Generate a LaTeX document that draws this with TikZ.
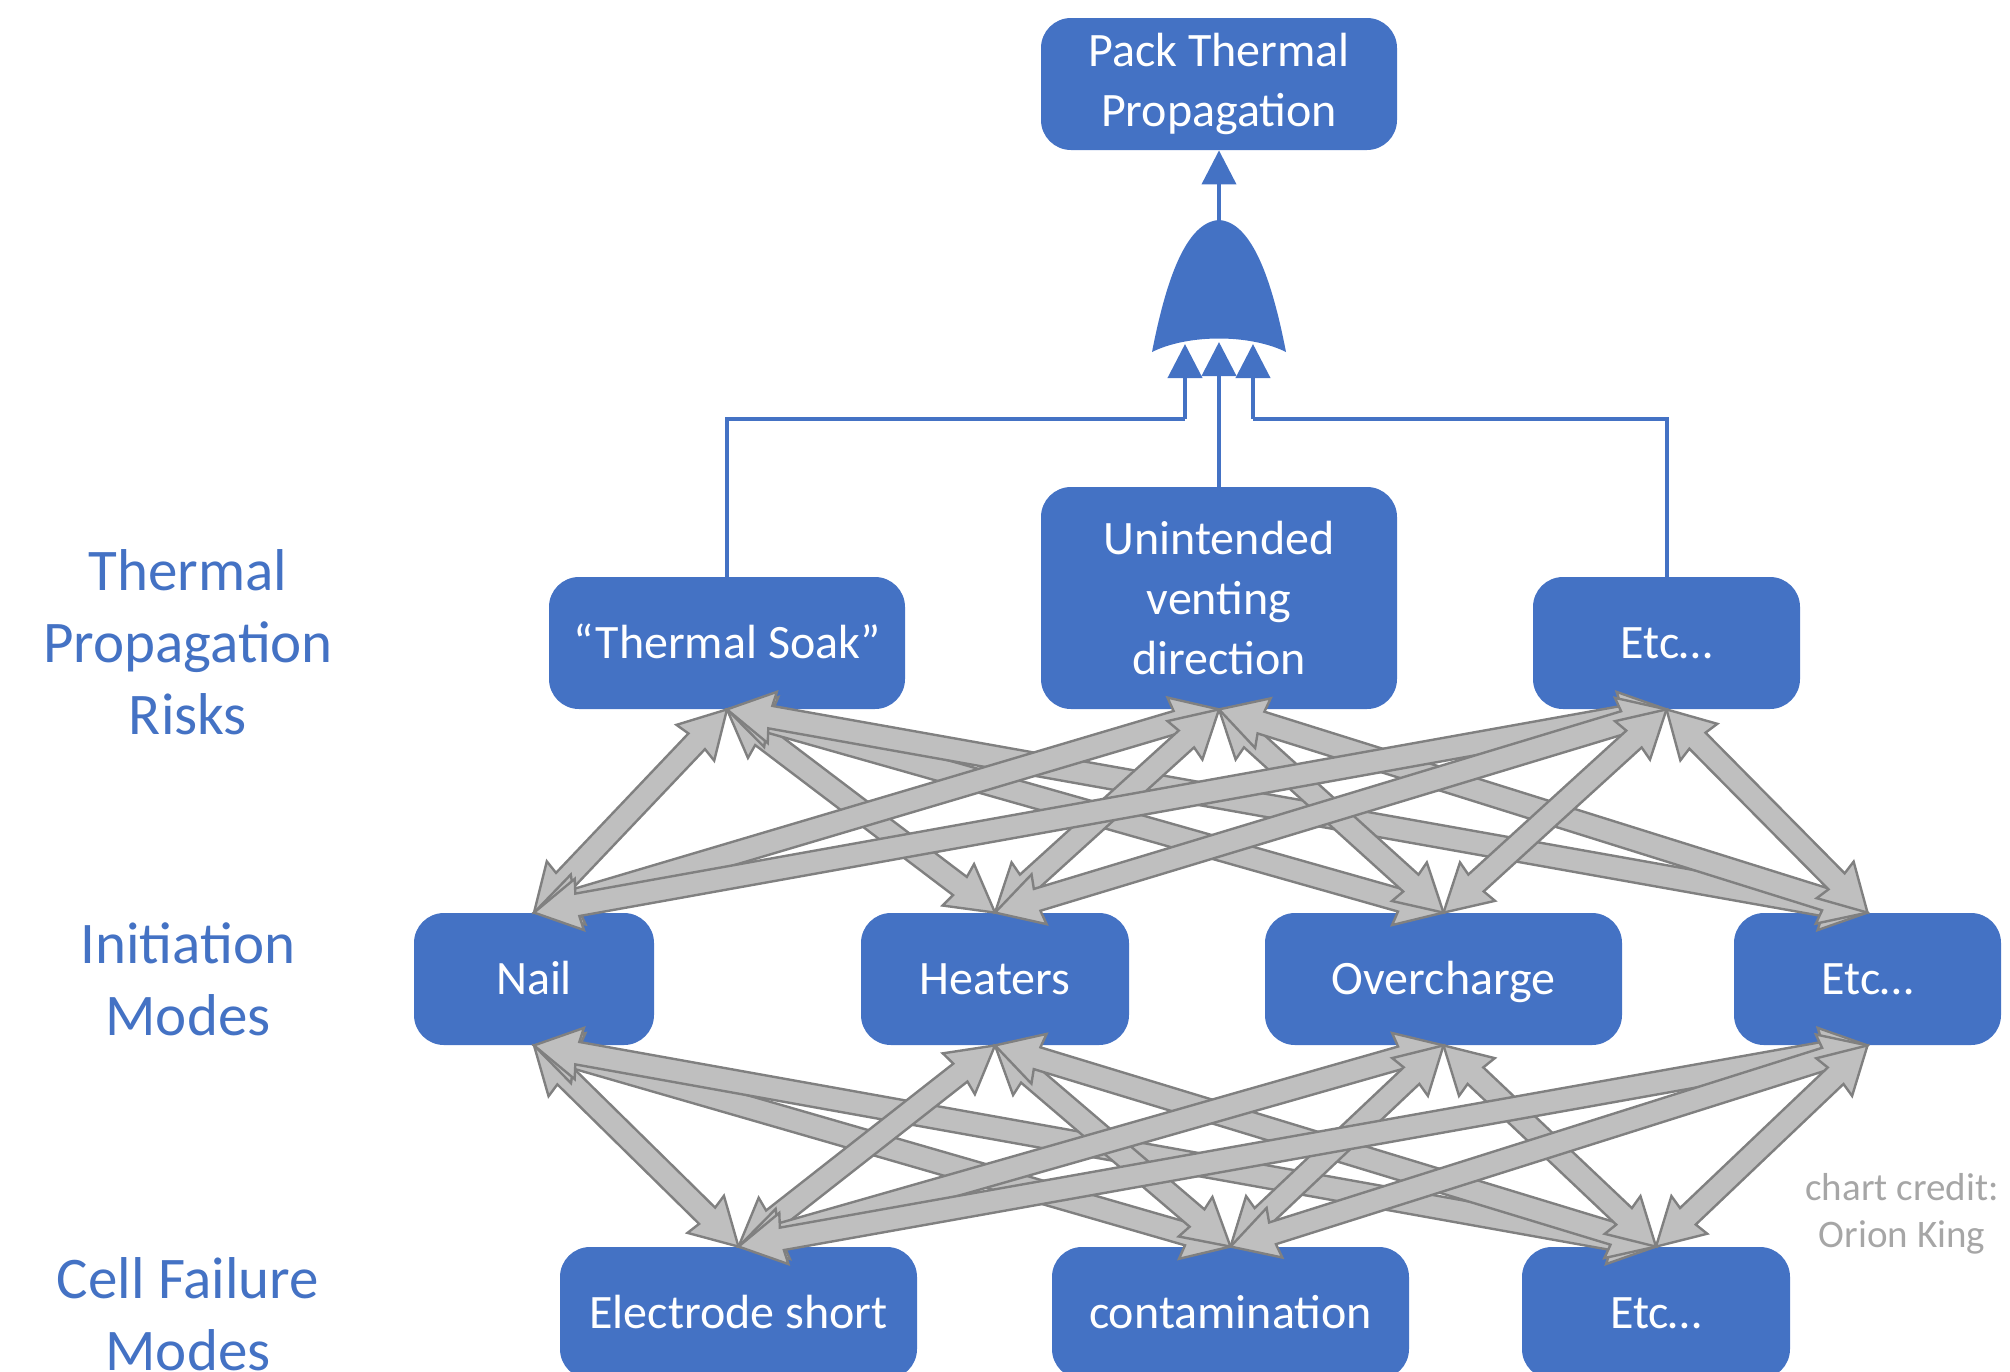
\documentclass[tikz,border=0pt]{standalone}
\usepackage{fontspec}
\setmainfont{Carlito}
\usetikzlibrary{arrows.meta,calc}
\definecolor{boxblue}{HTML}{4472C4}
\definecolor{agray}{HTML}{BFBFBF}
\definecolor{aedge}{HTML}{808080}
\definecolor{credit}{HTML}{A6A6A6}
\newcommand\garrow[2]{%
  \path (#1) coordinate (gaA) (#2) coordinate (gaB);
  \pgfpointdiff{\pgfpointanchor{gaA}{center}}{\pgfpointanchor{gaB}{center}}%
  \pgfgetlastxy{\gadx}{\gady}%
  \pgfmathsetmacro\gaang{atan2(\gady,\gadx)}%
  \pgfmathsetmacro\galen{veclen(\gadx,\gady)}%
  \pgfmathsetmacro\gaL{\galen-23}%
  \pgfmathsetmacro\gaLi{\galen-22}%
  \draw[garr, shift={(gaA)}, rotate=\gaang]
    (0pt,0pt) -- (23pt,13pt) -- (22pt,5.7pt) -- (\gaLi pt,5.7pt) -- (\gaL pt,13pt) -- (\galen pt,0pt)
    -- (\gaL pt,-13pt) -- (\gaLi pt,-5.7pt) -- (22pt,-5.7pt) -- (23pt,-13pt) -- cycle;
}
\begin{document}
\begin{tikzpicture}[x=0.5pt,y=-0.5pt,
  box/.style={fill=boxblue, rounded corners=15pt, text=white, align=center,
    font=\fontsize{24}{30}\selectfont, inner sep=0pt, minimum height=66pt},
  one/.style={text height=19.5pt, text depth=4pt},
  side/.style={text=boxblue, align=center, font=\fontsize{29.5}{36}\selectfont},
  garr/.style={draw=aedge, fill=agray, line width=1.2pt},
  bline/.style={draw=boxblue, line width=2pt},
  barr/.style={bline, -{Triangle[length=17pt,width=17pt]}}]
\useasboundingbox (0,0) rectangle (2010,1372);
\clip (0,0) rectangle (2010,1372);

% boxes
\node[box, minimum width=178pt] (pack) at (1219,84) {Pack Thermal\\Propagation};
\node[box, one, minimum width=178pt] (ts) at (727,643) {“Thermal Soak”};
\node[box, minimum width=178pt, minimum height=111pt] (uv) at (1219,598) {Unintended\\venting\\direction};
\node[box, one, minimum width=133.5pt] (etc1) at (1666.5,643) {Etc…};
\node[box, one, minimum width=120pt] (nail) at (534,979) {Nail};
\node[box, one, minimum width=134pt] (heat) at (995,979) {Heaters};
\node[box, one, minimum width=178.5pt] (over) at (1443.5,979) {Overcharge};
\node[box, one, minimum width=133.5pt] (etc2) at (1867.5,979) {Etc…};
\node[box, one, minimum width=178.5pt] (elec) at (738.5,1313) {Electrode short};
\node[box, one, minimum width=178.5pt] (cont) at (1230.5,1313) {contamination};
\node[box, one, minimum width=134pt] (etc3) at (1656,1313) {Etc…};

% side labels
\node[side] (l1) at (188,642) {Thermal\\Propagation\\Risks};
\node[side] (l2) at (188,979) {Initiation\\Modes};
\node[side] (l3) at (188,1314) {Cell Failure\\Modes};
\node[text=credit, align=center, font=\fontsize{19.5}{23.5}\selectfont] (cr) at (1902,1214) {chart credit:\\Orion King};

% OR gate
\fill[boxblue] (1152,352) .. controls (1166,280) and (1186,222) .. (1219,220)
  .. controls (1252,222) and (1272,280) .. (1286,352)
  .. controls (1250,334) and (1188,334) .. cycle;
\coordinate (gtop) at (1219,222);
\coordinate (gin1) at (1185,344);
\coordinate (gin2) at (1219,342);
\coordinate (gin3) at (1253,344);
\coordinate (j1) at (1185,419);
\coordinate (j3) at (1253,419);
\draw[barr] (gtop) -- (pack.south);
\draw[bline] (ts.north) |- (j1);
\draw[barr] (j1) -- (gin1);
\draw[barr] (uv.north) -- (gin2);
\draw[bline] (etc1.north) |- (j3);
\draw[barr] (j3) -- (gin3);

% gray double arrows, upper layer
\foreach \t in {ts,uv,etc1}{
  \foreach \b in {nail,heat,over,etc2}{
    \garrow{\t.south}{\b.north}
  }
}
% lower layer
\foreach \t in {nail,heat,over,etc2}{
  \foreach \b in {elec,cont,etc3}{
    \garrow{\t.south}{\b.north}
  }
}
\end{tikzpicture}
\end{document}
